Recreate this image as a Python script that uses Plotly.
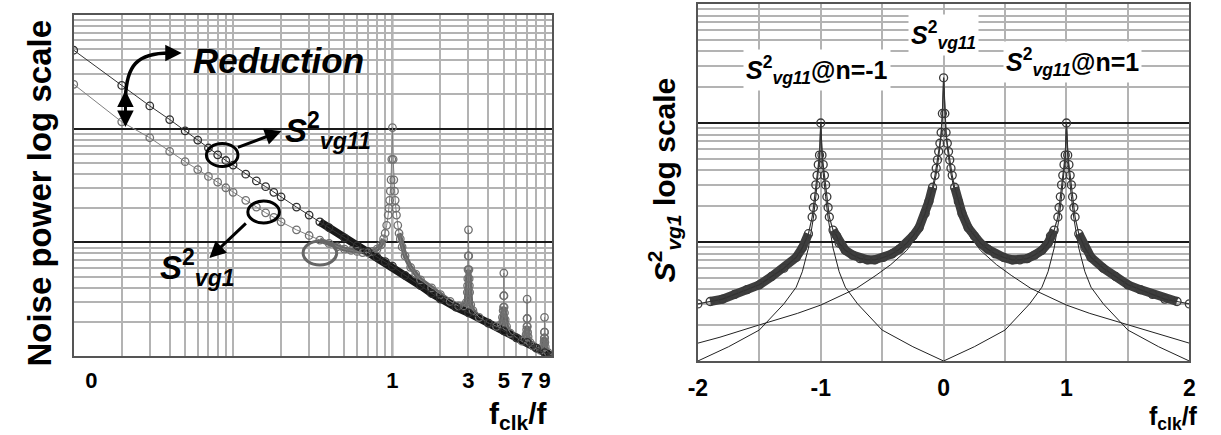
import plotly.graph_objects as go

W, H = 1221, 435
FONT = "Liberation Sans, Arial, sans-serif"

# ---------------- LEFT PANEL DATA (f/f_clk , log10 noise power) ----------------
S11_F = [0.01, 0.02, 0.03, 0.04, 0.05, 0.06, 0.07, 0.08, 0.09, 0.10,
         0.12, 0.14, 0.16, 0.18, 0.20, 0.25, 0.30, 0.35, 0.40, 0.50,
         0.60, 0.70, 0.80, 0.90, 1.0, 1.2, 1.5, 1.76, 2.0, 2.5,
         3.0, 4.0, 5.0, 6.0, 7.0, 8.0, 9.0, 10.0]
S11_LOG = [-0.31, -0.62, -0.80, -0.92, -1.02, -1.10, -1.17, -1.23, -1.28, -1.32,
           -1.40, -1.46, -1.51, -1.56, -1.60, -1.69, -1.76, -1.82, -1.87, -1.96,
           -2.03, -2.08, -2.13, -2.17, -2.21, -2.29, -2.38, -2.45, -2.50, -2.57,
           -2.62, -2.71, -2.78, -2.84, -2.88, -2.93, -2.97, -3.00]

S1_F = [0.01, 0.02, 0.03, 0.04, 0.05, 0.06, 0.07, 0.08, 0.09, 0.10,
        0.12, 0.14, 0.16, 0.18, 0.20, 0.25, 0.30, 0.35, 0.40, 0.45,
        0.50, 0.55, 0.60, 0.65, 0.70, 0.75, 0.80, 0.85, 0.88, 0.90,
        0.92, 0.94, 0.95, 0.96, 0.97, 0.98, 0.99, 1.00, 1.01, 1.02,
        1.03, 1.04, 1.05, 1.06, 1.08, 1.10, 1.12, 1.15, 1.20, 1.30,
        1.40, 1.50, 1.76, 2.00, 2.30, 2.60, 2.80, 2.90, 2.95, 2.96,
        2.97, 2.98, 2.99, 3.00, 3.01, 3.02, 3.03, 3.04, 3.05, 3.10,
        3.20, 3.50, 4.00, 4.50, 4.80, 4.90, 4.95, 4.98, 4.99, 5.00,
        5.01, 5.02, 5.05, 5.10, 5.20, 5.50, 6.00, 6.50, 6.80, 6.90,
        6.95, 6.98, 6.99, 7.00, 7.01, 7.02, 7.05, 7.10, 7.30, 7.60,
        8.00, 8.50, 8.80, 8.90, 8.95, 8.98, 8.99, 9.00, 9.01, 9.02,
        9.05, 9.10, 9.50, 10.0]
S1_LOG = [-0.61, -0.94, -1.08, -1.20, -1.29, -1.36, -1.42, -1.47, -1.52, -1.56,
          -1.63, -1.69, -1.74, -1.78, -1.82, -1.89, -1.94, -1.98, -2.01, -2.04,
          -2.06, -2.07, -2.08, -2.09, -2.09, -2.08, -2.06, -2.02, -1.97, -1.92,
          -1.85, -1.76, -1.70, -1.63, -1.55, -1.45, -1.27, -0.99, -1.27, -1.45,
          -1.55, -1.63, -1.70, -1.76, -1.85, -1.92, -1.97, -2.04, -2.12, -2.22,
          -2.28, -2.33, -2.40, -2.46, -2.52, -2.56, -2.56, -2.53, -2.44, -2.38,
          -2.32, -2.24, -2.12, -1.89, -2.12, -2.24, -2.32, -2.38, -2.44, -2.55,
          -2.60, -2.66, -2.71, -2.74, -2.72, -2.66, -2.60, -2.57, -2.47, -2.27,
          -2.47, -2.57, -2.62, -2.68, -2.74, -2.80, -2.84, -2.87, -2.85, -2.81,
          -2.77, -2.74, -2.67, -2.50, -2.67, -2.74, -2.79, -2.83, -2.88, -2.91,
          -2.93, -2.95, -2.93, -2.90, -2.87, -2.84, -2.79, -2.66, -2.79, -2.84,
          -2.88, -2.92, -2.97, -3.00]

LEFT_TICK_VALS = [0.0129, 1, 3, 5, 7, 9]
LEFT_TICK_TEXT = ["0", "1", "3", "5", "7", "9"]

# ---------------- RIGHT PANEL DATA (f_clk/f , log10 S^2_vg1) ----------------
TOT_X = [-2.0, -1.9, -1.8, -1.7, -1.6, -1.5, -1.4, -1.3, -1.2, -1.15,
         -1.1, -1.07, -1.06, -1.05, -1.04, -1.03, -1.02, -1.01, -1.0, -0.99,
         -0.98, -0.97, -0.96, -0.95, -0.94, -0.93, -0.9, -0.87, -0.85, -0.8,
         -0.74, -0.68, -0.62, -0.56, -0.49, -0.42, -0.36, -0.3, -0.25, -0.2,
         -0.15, -0.12, -0.09, -0.07, -0.06, -0.05, -0.04, -0.03, -0.02, -0.01,
         0.0,
         0.01, 0.02, 0.03, 0.04, 0.05, 0.06, 0.07, 0.09, 0.12, 0.15,
         0.2, 0.25, 0.3, 0.36, 0.42, 0.49, 0.56, 0.62, 0.68, 0.74,
         0.8, 0.85, 0.87, 0.9, 0.93, 0.94, 0.95, 0.96, 0.97, 0.98,
         0.99, 1.0, 1.01, 1.02, 1.03, 1.04, 1.05, 1.06, 1.07, 1.1,
         1.15, 1.2, 1.3, 1.4, 1.5, 1.6, 1.7, 1.8, 1.9, 2.0]
TOT_LOG = [-2.52, -2.50, -2.48, -2.44, -2.40, -2.36, -2.29, -2.22, -2.13, -2.05,
           -1.93, -1.79, -1.71, -1.62, -1.52, -1.44, -1.35, -1.27, -1.00, -1.27,
           -1.35, -1.44, -1.52, -1.62, -1.71, -1.79, -1.90, -1.95, -2.01, -2.07,
           -2.11, -2.14, -2.15, -2.15, -2.13, -2.10, -2.06, -2.01, -1.95, -1.88,
           -1.76, -1.66, -1.54, -1.44, -1.38, -1.31, -1.24, -1.17, -1.08, -0.92,
           -0.62,
           -0.92, -1.08, -1.17, -1.24, -1.31, -1.38, -1.44, -1.54, -1.66, -1.76,
           -1.88, -1.95, -2.01, -2.06, -2.10, -2.13, -2.15, -2.15, -2.14, -2.11,
           -2.07, -2.01, -1.95, -1.90, -1.79, -1.71, -1.62, -1.52, -1.44, -1.35,
           -1.27, -1.00, -1.27, -1.35, -1.44, -1.52, -1.62, -1.71, -1.79, -1.93,
           -2.05, -2.13, -2.22, -2.29, -2.36, -2.40, -2.44, -2.48, -2.50, -2.52]

N0_X = [-2.0, -1.82, -1.51, -1.19, -1.0, -0.87, -0.71, -0.55, -0.43, -0.3, -0.2, -0.15,
        -0.1, -0.06, -0.04, -0.02, -0.01, 0.0, 0.01, 0.02, 0.04, 0.06, 0.1, 0.15, 0.2,
        0.3, 0.43, 0.55, 0.71, 0.87, 1.0, 1.19, 1.51, 1.82, 2.0]
N0_LOG = [-2.85, -2.80, -2.70, -2.60, -2.53, -2.47, -2.39, -2.28, -2.19, -2.07, -1.93, -1.81,
          -1.63, -1.43, -1.29, -1.10, -0.95, -0.62, -0.95, -1.10, -1.29, -1.43, -1.63, -1.81, -1.93,
          -2.07, -2.19, -2.28, -2.39, -2.47, -2.53, -2.60, -2.70, -2.80, -2.85]

NM1_X = [-2.0, -1.75, -1.5, -1.3, -1.2, -1.15, -1.1, -1.06, -1.04, -1.02, -1.01, -1.0,
         -0.99, -0.98, -0.96, -0.94, -0.9, -0.85, -0.8, -0.7, -0.5, -0.25, 0.0]
NM1_LOG = [-3.0, -2.88, -2.74, -2.52, -2.38, -2.25, -2.05, -1.80, -1.62, -1.42, -1.30, -1.0,
           -1.30, -1.42, -1.62, -1.80, -2.05, -2.25, -2.38, -2.52, -2.74, -2.88, -3.0]
NP1_X = [0.0, 0.25, 0.5, 0.7, 0.8, 0.85, 0.9, 0.94, 0.96, 0.98, 0.99, 1.0,
         1.01, 1.02, 1.04, 1.06, 1.1, 1.15, 1.2, 1.3, 1.5, 1.75, 2.0]
NP1_LOG = [-3.0, -2.88, -2.74, -2.52, -2.38, -2.25, -2.05, -1.80, -1.62, -1.42, -1.30, -1.0,
           -1.30, -1.42, -1.62, -1.80, -2.05, -2.25, -2.38, -2.52, -2.74, -2.88, -3.0]

RIGHT_TICK_VALS = [-2, -1.5, -1, -0.5, 0, 0.5, 1, 1.5, 2]
RIGHT_TICK_TEXT = ["-2", "", "-1", "", "0", "", "1", "", "2"]


def lin(logs):
    return [10 ** v for v in logs]


def band(xs, ys, keep):
    bx, by, prev = [], [], False
    for x, y in zip(xs, ys):
        if keep(x):
            bx.append(x)
            by.append(y)
            prev = True
        elif prev:
            bx.append(None)
            by.append(None)
            prev = False
    return bx, by


def PX(x):
    return x / W


def PY(y):
    return 1 - y / H


fig = go.Figure()

# ---- left panel ----
gx, gy = band(S1_F, lin(S1_LOG),
              lambda f: f >= 0.35 and abs(f - 1) > 0.1 and all(abs(f - k) > 0.012 for k in (3, 5, 7, 9)))
fig.add_trace(go.Scatter(x=gx, y=gy, mode="lines", line=dict(color="#666666", width=5),
                         xaxis="x", yaxis="y", hoverinfo="skip"))
bx, by = band(S11_F, lin(S11_LOG), lambda f: f >= 0.35)
fig.add_trace(go.Scatter(x=bx, y=by, mode="lines", line=dict(color="#181818", width=8),
                         xaxis="x", yaxis="y", hoverinfo="skip"))
fig.add_trace(go.Scatter(x=S1_F, y=lin(S1_LOG), mode="lines+markers", name="S2vg1",
                         line=dict(color="#808080", width=1),
                         marker=dict(symbol="circle-open", size=7.5, color="#707070", line=dict(width=1.3)),
                         xaxis="x", yaxis="y"))
fig.add_trace(go.Scatter(x=S11_F, y=lin(S11_LOG), mode="lines+markers", name="S2vg11",
                         line=dict(color="#333333", width=1),
                         marker=dict(symbol="circle-open", size=7.5, color="#303030", line=dict(width=1.3)),
                         xaxis="x", yaxis="y"))

# ---- right panel ----
for xs, ys in ((N0_X, N0_LOG), (NM1_X, NM1_LOG), (NP1_X, NP1_LOG)):
    fig.add_trace(go.Scatter(x=xs, y=lin(ys), mode="lines", line=dict(color="#222222", width=1),
                             xaxis="x2", yaxis="y2", hoverinfo="skip"))
tx, ty = band(TOT_X, lin(TOT_LOG), lambda x: abs(x - round(x)) >= 0.08)
fig.add_trace(go.Scatter(x=tx, y=ty, mode="lines", line=dict(color="#3e3e3e", width=9),
                         xaxis="x2", yaxis="y2", hoverinfo="skip"))
fig.add_trace(go.Scatter(x=TOT_X, y=lin(TOT_LOG), mode="lines+markers", name="S2vg1 total",
                         line=dict(color="#333333", width=1.2),
                         marker=dict(symbol="circle-open", size=8, color="#3a3a3a", line=dict(width=1.3)),
                         xaxis="x2", yaxis="y2"))

GRID = "#b3b3b3"
DARK = "#1a1a1a"
BOX = "#555555"
log_minor = [m * 10 ** e for e in (-3, -2, -1) for m in range(2, 10)]
x_minor = [m * 10 ** e for e in (-2, -1, 0) for m in range(1, 10)][1:]

fig.update_layout(
    width=W, height=H, margin=dict(l=0, r=0, t=0, b=0),
    paper_bgcolor="white", plot_bgcolor="white", showlegend=False,
    font=dict(family=FONT, color="black"),
    xaxis=dict(domain=[64.6 / W, 549 / W], type="log", range=[-2, 1],
               tickmode="array", tickvals=LEFT_TICK_VALS, ticktext=LEFT_TICK_TEXT,
               showgrid=False, ticks="", ticklabelstandoff=4,
               tickfont=dict(size=22, family=FONT, weight="bold", color="black"),
               minor=dict(tickmode="array", tickvals=x_minor, showgrid=True, gridcolor=GRID, gridwidth=1.6, ticks=""),
               showline=True, mirror=True, linecolor=BOX, linewidth=2, zeroline=False),
    yaxis=dict(domain=[1 - 356 / H, 1 - 15 / H], type="log", range=[-3, 0],
               tickmode="array", tickvals=[0.01, 0.1], showticklabels=False, ticks="",
               showgrid=True, gridcolor=DARK, gridwidth=1.5,
               minor=dict(tickmode="array", tickvals=log_minor, showgrid=True, gridcolor=GRID, gridwidth=1.6, ticks=""),
               showline=True, mirror=True, linecolor=BOX, linewidth=2, zeroline=False),
    xaxis2=dict(domain=[697 / W, 1195 / W], anchor="y2", range=[-2, 2],
                tickmode="array", tickvals=RIGHT_TICK_VALS, ticktext=RIGHT_TICK_TEXT,
                showgrid=True, gridcolor=GRID, gridwidth=1.6, ticks="", ticklabelstandoff=5,
                tickfont=dict(size=23, family=FONT, weight="bold", color="black"),
                showline=True, mirror=True, linecolor=BOX, linewidth=2, zeroline=False),
    yaxis2=dict(domain=[1 - 361 / H, 1 - 4 / H], anchor="x2", type="log", range=[-3, 0],
                tickmode="array", tickvals=[0.01, 0.1], showticklabels=False, ticks="",
                showgrid=True, gridcolor=DARK, gridwidth=1.5,
                minor=dict(tickmode="array", tickvals=log_minor, showgrid=True, gridcolor=GRID, gridwidth=1.6, ticks=""),
                showline=True, mirror=True, linecolor=BOX, linewidth=2, zeroline=False),
)

shapes = []
# decade lines of the left log x-axis
for frac in (1 / 3, 2 / 3):
    shapes.append(dict(type="line", xref="x domain", yref="y domain", x0=frac, x1=frac, y0=0, y1=1,
                       line=dict(color=DARK, width=1.5), layer="below"))


def ellipse(cx, cy, rx, ry, color, width):
    return dict(type="circle", xref="paper", yref="paper",
                x0=PX(cx - rx), x1=PX(cx + rx), y0=PY(cy + ry), y1=PY(cy - ry),
                line=dict(color=color, width=width))


shapes.append(ellipse(215, 155, 16, 11.5, "black", 3))
shapes.append(ellipse(257, 212, 16, 11, "black", 3))
shapes.append(ellipse(314, 253, 17, 12, "#666666", 3))
# curved "Reduction" arrow body
shapes.append(dict(type="path", xref="paper", yref="paper",
                   path=f"M {PX(117)},{PY(98)} C {PX(118)},{PY(66)} {PX(128)},{PY(53)} {PX(162)},{PY(53)}",
                   line=dict(color="black", width=3.5)))
fig.update_layout(shapes=shapes)

ann = []


def arrow(x, y, ax, ay, both=False):
    d = dict(x=PX(x), y=PY(y), xref="paper", yref="paper", text="", showarrow=True,
             ax=ax, ay=ay, arrowhead=2, arrowsize=1.1, arrowwidth=3, arrowcolor="black")
    if both:
        d["arrowside"] = "end+start"
    return d


ann.append(arrow(174, 53, -14, 0))
ann.append(arrow(117, 127, 0, -38, both=True))
ann.append(arrow(275, 131, -45, 17))
ann.append(arrow(202, 258, 38, -36))


def text(x, y, t, size, xanchor="center", yanchor="middle", angle=0, bg=None):
    d = dict(x=PX(x), y=PY(y), xref="paper", yref="paper", text=t, showarrow=False,
             xanchor=xanchor, yanchor=yanchor, textangle=angle,
             font=dict(family=FONT, size=size, color="black"))
    if bg:
        d["bgcolor"] = bg
        d["borderpad"] = 2
    return d


ann.append(text(272, 60, "<b><i>Reduction</i></b>", 35))
ann.append(text(277, 130, "<b><i>S</i><sup>2</sup><sub><i>vg11</i></sub></b>", 33, xanchor="left"))
ann.append(text(150, 267, "<b><i>S</i><sup>2</sup><sub><i>vg1</i></sub></b>", 33, xanchor="left"))
ann.append(text(30, 193, "<b>Noise power log scale</b>", 33, angle=-90))
ann.append(text(547, 436, "<b>f<sub>clk</sub>/f</b>", 30, xanchor="right", yanchor="bottom"))

ann.append(text(663, 180, "<b><i>S</i><sup>2</sup><sub><i>vg1</i></sub> log scale</b>", 30, angle=-90))
ann.append(text(1206, 436, "<b>f<sub>clk</sub>/f</b>", 25, xanchor="right", yanchor="bottom"))
ann.append(text(818, 70, "<b><i>S</i><sup>2</sup><sub><i>vg11</i></sub>@n=-1</b>", 25, bg="white"))
ann.append(text(946, 35, "<b><i>S</i><sup>2</sup><sub><i>vg11</i></sub></b>", 25, bg="white"))
ann.append(text(1077, 62, "<b><i>S</i><sup>2</sup><sub><i>vg11</i></sub>@n=1</b>", 25, bg="white"))

fig.update_layout(annotations=ann)

fig.write_html("out.html", config={"displayModeBar": False},
               post_script="document.body.style.margin='0';document.body.style.overflow='hidden';")
